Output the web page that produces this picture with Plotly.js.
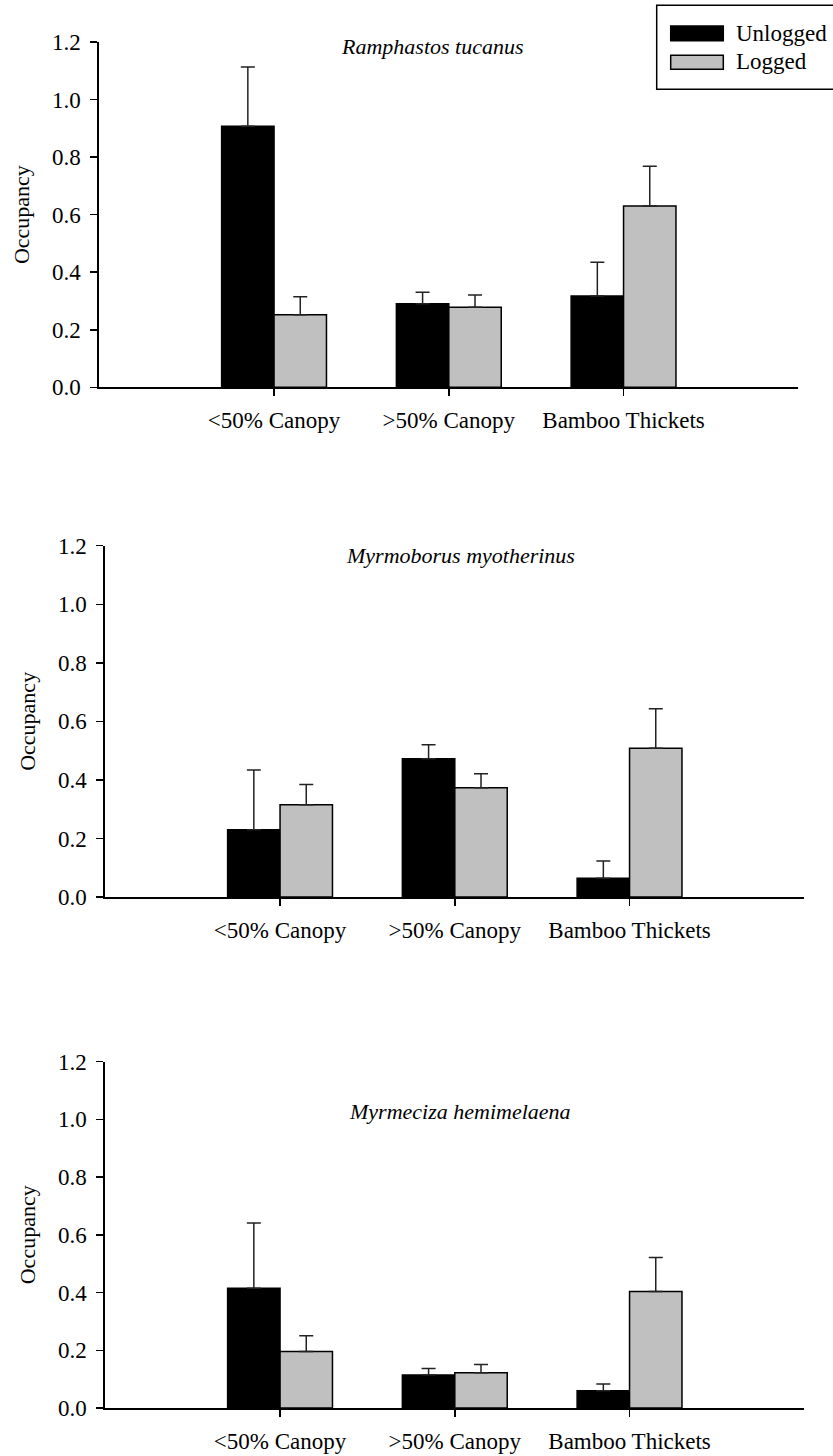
<!DOCTYPE html>
<html>
<head>
<meta charset="utf-8">
<script src="https://cdn.plot.ly/plotly-3.0.1.min.js"></script>
<style>html,body{margin:0;padding:0;background:#fff;}#chart{width:833px;height:1456px;}</style>
</head>
<body>
<div id="chart"></div>
<script>
// ---- data ----
const categories = ['<50% Canopy', '>50% Canopy', 'Bamboo Thickets'];
const species = ['Ramphastos tucanus', 'Myrmoborus myotherinus', 'Myrmeciza hemimelaena'];
const seriesNames = ['Unlogged', 'Logged'];
const yTickValues = [0, 0.2, 0.4, 0.6, 0.8, 1.0, 1.2];
const yTickLabels = ['0.0', '0.2', '0.4', '0.6', '0.8', '1.0', '1.2'];

const tucanusUnlogged = [0.907, 0.290, 0.317];
const tucanusUnloggedSE = [0.206, 0.040, 0.118];
const tucanusLogged = [0.252, 0.278, 0.630];
const tucanusLoggedSE = [0.063, 0.043, 0.138];

const myotherinusUnlogged = [0.230, 0.472, 0.064];
const myotherinusUnloggedSE = [0.204, 0.048, 0.059];
const myotherinusLogged = [0.315, 0.373, 0.508];
const myotherinusLoggedSE = [0.069, 0.048, 0.135];

const hemimelaenaUnlogged = [0.415, 0.114, 0.060];
const hemimelaenaUnloggedSE = [0.226, 0.023, 0.023];
const hemimelaenaLogged = [0.196, 0.122, 0.404];
const hemimelaenaLoggedSE = [0.054, 0.029, 0.117];

const noLowerError = [0, 0, 0];

// ---- styling ----
const W = 833, H = 1456;
const FONT = '"Liberation Serif", "Times New Roman", "DejaVu Serif", serif';
const colors = ['#000000', '#c0c0c0'];
const panels = [
  {u: tucanusUnlogged, uSE: tucanusUnloggedSE, l: tucanusLogged, lSE: tucanusLoggedSE,
   px: [99.3, 798.3], py: [42, 387.3], title: [432.8, 47]},
  {u: myotherinusUnlogged, uSE: myotherinusUnloggedSE, l: myotherinusLogged, lSE: myotherinusLoggedSE,
   px: [105.3, 804.3], py: [545.7, 897], title: [460, 555]},
  {u: hemimelaenaUnlogged, uSE: hemimelaenaUnloggedSE, l: hemimelaenaLogged, lSE: hemimelaenaLoggedSE,
   px: [105.3, 804.3], py: [1061.6, 1408], title: [460, 1111]}
];

const traces = [];
const layout = {
  width: W, height: H,
  margin: {l: 0, r: 0, t: 0, b: 0},
  paper_bgcolor: '#ffffff', plot_bgcolor: '#ffffff',
  barmode: 'group', bargap: 0.4, bargroupgap: 0,
  showlegend: false,
  font: {family: FONT, size: 23, color: '#000'},
  annotations: [], shapes: []
};

panels.forEach((p, i) => {
  const sfx = i === 0 ? '' : String(i + 1);
  const xa = 'x' + sfx, ya = 'y' + sfx;
  [[p.u, p.uSE], [p.l, p.lSE]].forEach((pair, k) => {
    traces.push({
      type: 'bar', x: categories, y: pair[0], name: seriesNames[k],
      xaxis: xa, yaxis: ya,
      marker: {color: colors[k], line: {color: '#000', width: 1.5}},
      error_y: {type: 'data', symmetric: false, array: pair[1], arrayminus: noLowerError,
                color: '#222222', thickness: 1.5, width: 7},
      hoverinfo: 'x+y'
    });
  });
  layout['xaxis' + sfx] = {
    domain: [p.px[0] / W, p.px[1] / W], anchor: ya,
    type: 'category', categoryorder: 'array', categoryarray: categories,
    range: [-1, 3], showgrid: false, zeroline: false,
    showline: true, linecolor: '#000', linewidth: 2,
    ticks: 'outside', ticklen: 7, tickwidth: 1.5, tickcolor: '#000',
    tickfont: {family: FONT, size: 23, color: '#000'}, ticklabelstandoff: 4,
    fixedrange: true
  };
  layout['yaxis' + sfx] = {
    domain: [1 - p.py[1] / H, 1 - p.py[0] / H], anchor: xa,
    range: [0, 1.2], tickvals: yTickValues, ticktext: yTickLabels,
    showgrid: false, zeroline: false,
    showline: true, linecolor: '#000', linewidth: 2,
    ticks: 'outside', ticklen: 7, tickwidth: 1.5, tickcolor: '#000',
    tickfont: {family: FONT, size: 23, color: '#000'}, ticklabelstandoff: 5,
    title: {text: 'Occupancy', font: {family: FONT, size: 22, color: '#000'}, standoff: 16},
    fixedrange: true
  };
  layout.annotations.push({
    xref: 'paper', yref: 'paper', x: p.title[0] / W, y: 1 - p.title[1] / H,
    xanchor: 'center', yanchor: 'middle', showarrow: false,
    text: '<i>' + species[i] + '</i>', font: {family: FONT, size: 22, color: '#000'}
  });
});

// ---- legend (drawn as a boxed key, top right) ----
layout.shapes.push(
  {type: 'rect', xref: 'paper', yref: 'paper', x0: 656.7 / W, x1: 1.02, y0: 1 - 89.3 / H, y1: 1 - 5.3 / H,
   line: {color: '#000', width: 1.5}, fillcolor: 'rgba(0,0,0,0)'},
  {type: 'rect', xref: 'paper', yref: 'paper', x0: 670.7 / W, x1: 723.3 / W, y0: 1 - 40.7 / H, y1: 1 - 26 / H,
   line: {color: '#000', width: 1.5}, fillcolor: colors[0]},
  {type: 'rect', xref: 'paper', yref: 'paper', x0: 670.7 / W, x1: 723.3 / W, y0: 1 - 69.3 / H, y1: 1 - 55.3 / H,
   line: {color: '#000', width: 1.5}, fillcolor: colors[1]}
);
layout.annotations.push(
  {xref: 'paper', yref: 'paper', x: 734 / W, y: 1 - 33 / H, xanchor: 'left', yanchor: 'middle',
   showarrow: false, text: seriesNames[0], font: {family: FONT, size: 23, color: '#000'}},
  {xref: 'paper', yref: 'paper', x: 734 / W, y: 1 - 62 / H, xanchor: 'left', yanchor: 'middle',
   showarrow: false, text: seriesNames[1], font: {family: FONT, size: 23, color: '#000'}}
);

Plotly.newPlot('chart', traces, layout, {displayModeBar: false, staticPlot: true});
</script>
</body>
</html>
